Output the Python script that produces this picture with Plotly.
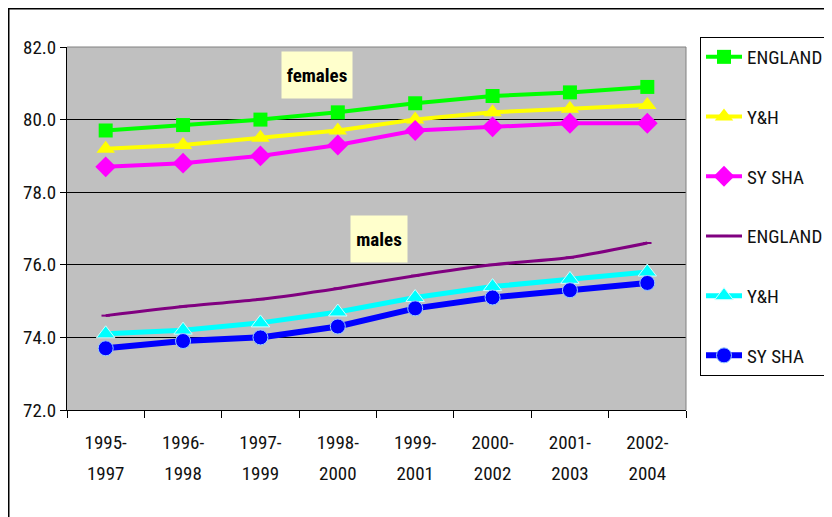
import plotly.graph_objects as go

periods = ["1995-1997", "1996-1998", "1997-1999", "1998-2000",
           "1999-2001", "2000-2002", "2001-2003", "2002-2004"]
tick_top = ["1995-", "1996-", "1997-", "1998-", "1999-", "2000-", "2001-", "2002-"]
tick_bottom = ["1997", "1998", "1999", "2000", "2001", "2002", "2003", "2004"]

f_england = [79.7, 79.85, 80.0, 80.2, 80.45, 80.65, 80.75, 80.9]
f_yh = [79.2, 79.3, 79.5, 79.7, 80.0, 80.2, 80.3, 80.4]
f_sysha = [78.7, 78.8, 79.0, 79.3, 79.7, 79.8, 79.9, 79.9]
m_england = [74.6, 74.85, 75.05, 75.35, 75.7, 76.0, 76.2, 76.6]
m_yh = [74.1, 74.2, 74.4, 74.7, 75.1, 75.4, 75.6, 75.8]
m_sysha = [73.7, 73.9, 74.0, 74.3, 74.8, 75.1, 75.3, 75.5]

FONT = "Roboto Condensed, Liberation Sans, Arial, sans-serif"
FS = 19
xi = list(range(len(periods)))

# page body has an 8px margin; plot area in page px: x 67..686, y 47..410
OFF = 8
L, T, PW, PH = 67 - OFF, 47 - OFF, 619, 363


def px(xp):
    return (xp - OFF - L) / PW


def py(yp):
    return (T + PH - (yp - OFF)) / PH


fig = go.Figure()
series = [
    ("ENGLAND", f_england, "#00FF00", 4, dict(symbol="square", size=14, color="#00FF00"), "linear"),
    ("Y&H", f_yh, "#FFFF00", 4, dict(symbol="triangle-up", size=16, color="#FFFF00"), "linear"),
    ("SY SHA", f_sysha, "#FF00FF", 4, dict(symbol="diamond", size=16, color="#FF00FF"), "linear"),
    ("ENGLAND", m_england, "#800080", 3, dict(symbol="line-ew", size=6, color="#800080",
                                               line=dict(color="#800080", width=2)), "spline"),
    ("Y&H", m_yh, "#00FFFF", 5, dict(symbol="triangle-up", size=16, color="#00FFFF",
                                    line=dict(color="#CCFFFF", width=1)), "linear"),
    ("SY SHA", m_sysha, "#0000FF", 6, dict(symbol="circle", size=15, color="#0000FF",
                                         line=dict(color="#99CCFF", width=1)), "linear"),
]
for i, (name, vals, col, w, mk, shape) in enumerate(series):
    fig.add_trace(go.Scatter(
        x=xi, y=vals, name=name, mode="lines+markers",
        line=dict(color=col, width=w, shape=shape, smoothing=0.6),
        marker=mk, legendgroup=f"g{i}", xaxis="x", yaxis="y"))

# helper (invisible) traces so the extra tick/label axes are drawn
for ax in ("x2", "x3"):
    fig.add_trace(go.Scatter(x=xi, y=[None] * len(xi), xaxis=ax, yaxis="y",
                             showlegend=False, hoverinfo="skip", mode="lines"))

fig.update_layout(
    width=832, height=517,
    margin=dict(l=L, r=832 - L - PW, t=T, b=517 - T - PH, autoexpand=False),
    paper_bgcolor="white",
    plot_bgcolor="#C0C0C0",
    font=dict(family=FONT, size=FS, color="#111111"),
    showlegend=True,
    legend=dict(x=px(700), y=py(37), xanchor="left", yanchor="top",
                bgcolor="white", bordercolor="#000000", borderwidth=1,
                tracegroupgap=32, maxheight=420, itemwidth=36,
                font=dict(size=FS, family=FONT)),
    xaxis=dict(range=[-0.5, 7.5], tickmode="array", tickvals=xi, ticktext=tick_top,
               showgrid=False, zeroline=False, showline=True, linecolor="black", linewidth=1,
               ticks="", ticklabelstandoff=15, tickfont=dict(size=FS, family=FONT)),
    xaxis2=dict(range=[-0.5, 7.5], tickmode="array", tickvals=[x - 0.5 for x in xi] + [7.5],
                ticktext=[""] * 9, overlaying="x", anchor="y", side="bottom",
                showgrid=False, zeroline=False, showline=False,
                ticks="outside", ticklen=7, tickcolor="black"),
    xaxis3=dict(range=[-0.5, 7.5], tickmode="array", tickvals=xi, ticktext=tick_bottom,
                overlaying="x", anchor="y", side="bottom",
                showgrid=False, zeroline=False, showline=False,
                ticks="", ticklabelstandoff=50, tickfont=dict(size=FS, family=FONT)),
    yaxis=dict(range=[72, 82], tickmode="array", tickvals=[72, 74, 76, 78, 80, 82],
               tickformat=".1f", showgrid=True, gridcolor="black", gridwidth=1,
               zeroline=False, showline=True, linecolor="black", linewidth=1,
               ticks="outside", ticklen=6, tickcolor="black",
               tickfont=dict(size=FS, family=FONT)),
    shapes=[
        dict(type="line", xref="paper", yref="paper", x0=0, x1=1, y0=1, y1=1,
             line=dict(color="#808080", width=1)),
        dict(type="line", xref="paper", yref="paper", x0=1, x1=1, y0=0, y1=1,
             line=dict(color="#808080", width=1)),
        dict(type="rect", xref="paper", yref="paper", x0=px(8.5), x1=1.6, y0=-0.6, y1=py(8.5),
             line=dict(color="black", width=2), layer="below"),
    ],
    annotations=[
        dict(text="<b>females</b>", xref="paper", yref="paper", x=px(316.5), y=py(75),
             xanchor="center", yanchor="middle",
             showarrow=False, bgcolor="#FFFFCC", width=68, height=44,
             font=dict(size=FS, family=FONT, color="black")),
        dict(text="<b>males</b>", xref="paper", yref="paper", x=px(379), y=py(239),
             xanchor="center", yanchor="middle",
             showarrow=False, bgcolor="#FFFFCC", width=54, height=44,
             font=dict(size=FS, family=FONT, color="black")),
    ],
)

fig.write_html("out.html")
